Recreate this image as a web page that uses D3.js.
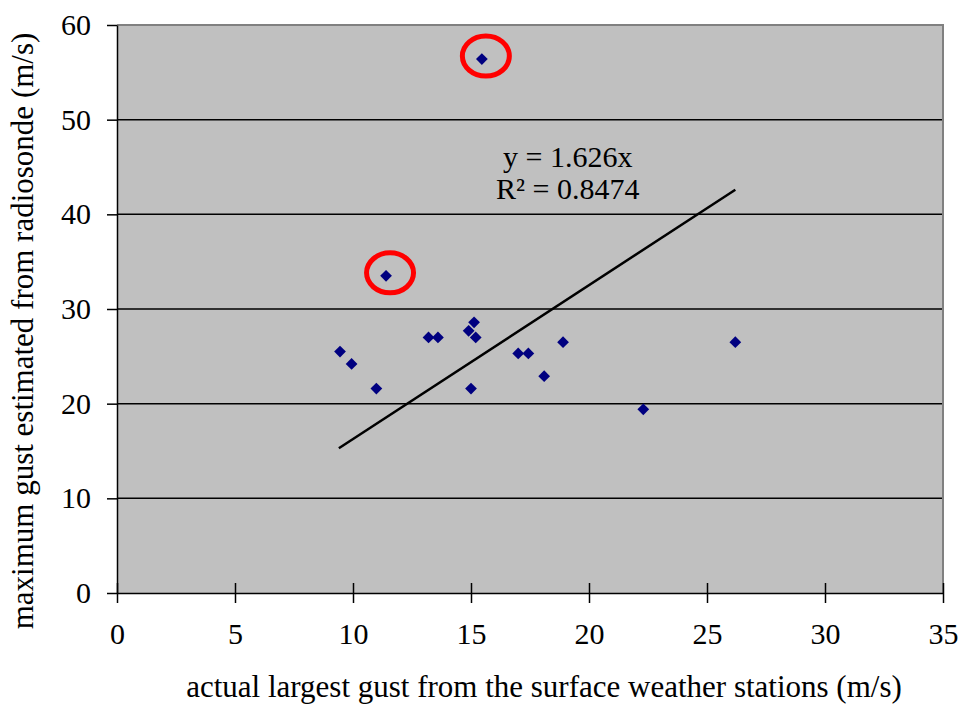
<!DOCTYPE html>
<html>
<head>
<meta charset="utf-8">
<script src="https://cdn.jsdelivr.net/npm/d3@7"></script>
<style>
  body { margin: 0; background: #fff; }
  text { font-family: "Liberation Serif", "Times New Roman", serif; fill: #000; }
</style>
</head>
<body>
<div id="chart"></div>
<script>
// surface gust (x) vs radiosonde gust (y), m/s
var gustX = [9.45, 9.94, 10.99, 11.4, 13.2, 13.6, 14.9, 15.13, 15.2, 15.0, 15.46, 17.0, 17.43, 18.1, 18.9, 22.3, 26.2];
var gustY = [25.5, 24.2, 21.6, 33.5, 27.0, 27.0, 27.7, 28.6, 27.0, 21.6, 56.4, 25.3, 25.3, 22.9, 26.5, 19.4, 26.5];
var xTicks = [0, 5, 10, 15, 20, 25, 30, 35];
var yTicks = [0, 10, 20, 30, 40, 50, 60];
var slope = 1.626;
var trendRange = [9.4, 26.2];
var outliers = [3, 10]; // indexes circled in red

var margin = { top: 25, right: 21, bottom: 114, left: 117 };
var width = 964 - margin.left - margin.right;
var height = 707 - margin.top - margin.bottom;

var svg = d3.select("#chart")
    .append("svg")
    .attr("width", 964)
    .attr("height", 707);

var g = svg.append("g")
    .attr("transform", "translate(" + margin.left + "," + margin.top + ")");

var x = d3.scaleLinear().domain([0, 35]).range([0, width]);
var y = d3.scaleLinear().domain([0, 60]).range([height, 0]);

// plot background
g.append("rect")
    .attr("width", width)
    .attr("height", height)
    .attr("fill", "#c0c0c0");

// gridlines
g.selectAll(".grid")
    .data(yTicks.filter(function (d) { return d > 0 && d < 60; }))
    .enter().append("line")
    .attr("x1", 0)
    .attr("x2", width)
    .attr("y1", function (d) { return y(d); })
    .attr("y2", function (d) { return y(d); })
    .attr("stroke", "#000")
    .attr("stroke-width", 1.5);

// top/right border
g.append("path")
    .attr("d", "M0," + y(60) + "H" + width + "V" + height)
    .attr("fill", "none")
    .attr("stroke", "#808080")
    .attr("stroke-width", 2);

// x-axis
var xAxis = g.append("g")
    .attr("transform", "translate(0," + height + ")")
    .call(d3.axisBottom(x).tickValues(xTicks).tickSize(10).tickSizeOuter(0));
xAxis.select(".domain").attr("stroke", "#000").attr("stroke-width", 1.5);
xAxis.selectAll(".tick line").attr("y1", -10).attr("stroke-width", 1.5);
xAxis.selectAll("text")
    .attr("y", 30)
    .style("font-size", "30px")
    .style("font-family", "Liberation Serif");

// y-axis
var yAxis = g.append("g")
    .call(d3.axisLeft(y).tickValues(yTicks).tickSize(10).tickSizeOuter(0));
yAxis.select(".domain").attr("stroke", "#000").attr("stroke-width", 1.5);
yAxis.selectAll(".tick line").attr("stroke-width", 1.5);
yAxis.selectAll("text")
    .attr("x", -26)
    .style("font-size", "30px")
    .style("font-family", "Liberation Serif");

// axis titles
g.append("text")
    .attr("x", width / 2 + 14)
    .attr("y", height + 104)
    .attr("text-anchor", "middle")
    .style("font-size", "31px")
    .text("actual largest gust from the surface weather stations (m/s)");

g.append("text")
    .attr("transform", "translate(" + (-84) + "," + (height / 2 + 22) + ") rotate(-90)")
    .attr("text-anchor", "middle")
    .style("font-size", "31px")
    .text("maximum gust estimated from radiosonde (m/s)");

// trendline
g.append("line")
    .attr("x1", x(trendRange[0]))
    .attr("y1", y(slope * trendRange[0]))
    .attr("x2", x(trendRange[1]))
    .attr("y2", y(slope * trendRange[1]))
    .attr("stroke", "#000")
    .attr("stroke-width", 2.5);

// points
var pts = gustX.map(function (d, i) { return { x: d, y: gustY[i] }; });
g.selectAll(".pt")
    .data(pts)
    .enter().append("path")
    .attr("class", "pt")
    .attr("d", d3.symbol().type(d3.symbolDiamond2).size(88))
    .attr("transform", function (d) { return "translate(" + x(d.x) + "," + y(d.y) + ")"; })
    .attr("fill", "#000080");

// red circles round outliers
g.selectAll(".ring")
    .data(outliers)
    .enter().append("ellipse")
    .attr("cx", function (i) { return x(gustX[i]) + 4; })
    .attr("cy", function (i) { return y(gustY[i]) - 3; })
    .attr("rx", 23.5)
    .attr("ry", 20)
    .attr("fill", "none")
    .attr("stroke", "#ff0000")
    .attr("stroke-width", 5);

// equation
var eq = g.append("text")
    .attr("text-anchor", "middle")
    .style("font-size", "30px");
eq.append("tspan").attr("x", x(19.1)).attr("y", 142).text("y = 1.626x");
eq.append("tspan").attr("x", x(19.1)).attr("y", 174).text("R² = 0.8474");
</script>
</body>
</html>
